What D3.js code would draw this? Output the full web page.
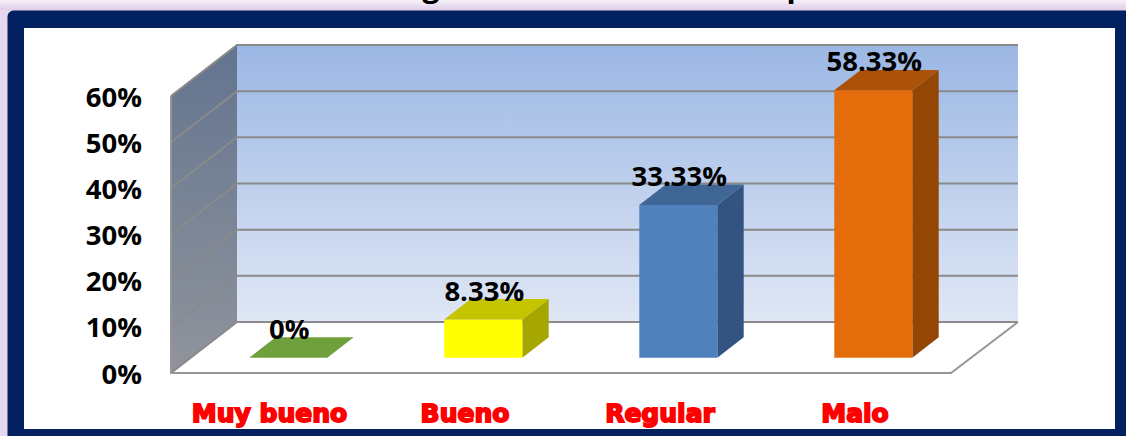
<!DOCTYPE html>
<html>
<head>
<meta charset="utf-8">
<script src="https://cdn.jsdelivr.net/npm/d3@7"></script>
<style>
html, body { margin: 0; padding: 0; background: #fff; overflow: hidden; }
</style>
</head>
<body>
<div id="chart"></div>
<script>
var categories = ['Muy bueno', 'Bueno', 'Regular', 'Malo'];
var values = [0, 8.33, 33.33, 58.33];
var valueLabels = ['0%', '8.33%', '33.33%', '58.33%'];
var frontColors = ['#70a03c', '#ffff00', '#4f81bd', '#e46c0a'];
var sideColors = ['#5a8030', '#a6a600', '#335480', '#944705'];
var topColors = ['#70a03c', '#c4c400', '#3f6695', '#ab5208'];
var ticks = [0, 10, 20, 30, 40, 50, 60];
// only these two letters of the title show above the frame
var titleLetters = ['g', 'p'];

var w = 1126, h = 436;
var svg = d3.select('#chart').append('svg').attr('width', w).attr('height', h);
var defs = svg.append('defs');

function gradient(id, stops, x2, y2) {
    var g = defs.append('linearGradient').attr('id', id)
        .attr('x1', 0).attr('y1', 0).attr('x2', x2).attr('y2', y2);
    stops.forEach(function (s) {
        g.append('stop').attr('offset', s[0]).attr('stop-color', s[1]);
    });
}
gradient('wallBack', [[0, '#9bb7e4'], [1, '#e0e7f5']], 0, 1);
gradient('wallSide', [[0, '#63748f'], [1, '#90949c']], 0, 1);
gradient('glow', [[0, '#f6f1f9'], [1, '#dccbe7']], 0, 1);

var x = d3.scaleBand().domain(categories).range([171, 951]).paddingInner(0.6).paddingOuter(0.3);
var y = d3.scaleLinear().domain([0, 60]).range([373, 96]);
// bars sit further back in the box so they come out a little shorter
var barH = d3.scaleLinear().domain([0, 60]).range([0, 275]);
var depth = d3.scaleLinear().domain([0, 1]).range([0, 66]);
var rise = d3.scaleLinear().domain([0, 1]).range([0, -51]);

function pt(px, py, t) {
    return [px + depth(t), py + rise(t)];
}
var line = d3.line();

function poly(g, pts, fill, stroke, sw) {
    return g.append('path').attr('d', line(pts) + 'Z')
        .attr('fill', fill)
        .attr('stroke', stroke || 'none')
        .attr('stroke-width', sw || 0);
}

var labelFont = '"Open Sans", "Noto Sans", sans-serif';

// page and frame
svg.append('rect').attr('width', w).attr('height', 11).attr('fill', 'url(#glow)');
svg.append('rect').attr('x', 0).attr('y', 10).attr('width', 8).attr('height', h - 10).attr('fill', '#e6d9ef');

var titleX = [431, 796];
svg.append('g').selectAll('text').data(titleLetters).enter().append('text')
    .attr('x', function (d, i) { return titleX[i]; }).attr('y', -3)
    .attr('text-anchor', 'middle')
    .attr('font-family', labelFont).attr('font-weight', 700).attr('font-size', 30)
    .text(function (d) { return d; });

svg.append('rect').attr('x', 7.5).attr('y', 10.5).attr('width', w).attr('height', h)
    .attr('rx', 6).attr('fill', '#002060');
svg.append('rect').attr('x', 24).attr('y', 28).attr('width', 1091).attr('height', 401).attr('fill', '#fff');

var plot = svg.append('g');
var x0 = 171, x1 = 952;

// walls
poly(plot, [pt(x0, y(60), 1), pt(x1, y(60), 1), pt(x1, y(0), 1), pt(x0, y(0), 1)], 'url(#wallBack)');
poly(plot, [pt(x0, y(60), 0), pt(x0, y(60), 1), pt(x0, y(0), 1), pt(x0, y(0), 0)], 'url(#wallSide)');

// gridlines across side and back wall
ticks.forEach(function (t) {
    plot.append('path')
        .attr('d', line([pt(x0, y(t), 0), pt(x0, y(t), 1), pt(x1, y(t), 1)]))
        .attr('fill', 'none').attr('stroke', '#8a8a8a').attr('stroke-width', 2);
});
plot.append('path')
    .attr('d', line([pt(x0, y(60), 0), pt(x0, y(0), 0), pt(x1 - 1, y(0), 0), pt(x1, y(0), 1)]))
    .attr('fill', 'none').attr('stroke', '#969696').attr('stroke-width', 2);

// bars, sitting between t=.3 and t=.7 of the floor depth
var bars = svg.append('g');
var yBase = y(0);
categories.forEach(function (c, i) {
    var left = x(c), right = left + x.bandwidth();
    var yTop = yBase - barH(values[i]);
    if (values[i] > 0) {
        poly(bars, [pt(right, yBase, 0.3), pt(right, yBase, 0.7), pt(right, yTop, 0.7), pt(right, yTop, 0.3)], sideColors[i]);
        poly(bars, [pt(left, yBase, 0.3), pt(right, yBase, 0.3), pt(right, yTop, 0.3), pt(left, yTop, 0.3)], frontColors[i]);
    }
    poly(bars, [pt(left, yTop, 0.3), pt(right, yTop, 0.3), pt(right, yTop, 0.7), pt(left, yTop, 0.7)], topColors[i]);
});

// data labels
svg.append('g').selectAll('text').data(categories).enter().append('text')
    .attr('x', function (d) { return x(d) + x.bandwidth() / 2 + depth(0.3) + 1; })
    .attr('y', function (d, i) { return yBase - barH(values[i]) + rise(0.7) + 1.5; })
    .attr('text-anchor', 'middle')
    .attr('font-family', labelFont).attr('font-weight', 700).attr('font-size', 27.5)
    .attr('fill', '#000')
    .text(function (d, i) { return valueLabels[i]; });

// y axis labels
svg.append('g').selectAll('text').data(ticks).enter().append('text')
    .attr('x', 142).attr('y', function (d) { return y(d) + 10.5; })
    .attr('text-anchor', 'end')
    .attr('font-family', labelFont).attr('font-weight', 700).attr('font-size', 27.5)
    .attr('fill', '#000')
    .text(function (d) { return d + '%'; });

// category labels
var catX = [269.5, 465, 660, 855];
svg.append('g').selectAll('text').data(categories).enter().append('text')
    .attr('x', function (d, i) { return catX[i]; }).attr('y', 422)
    .attr('text-anchor', 'middle')
    .attr('font-family', '"DejaVu Sans", sans-serif')
    .attr('font-weight', 700).attr('font-size', 25)
    .attr('fill', '#ff0000').attr('stroke', '#ff0000').attr('stroke-width', 1.8)
    .text(function (d) { return d; });
</script>
</body>
</html>
